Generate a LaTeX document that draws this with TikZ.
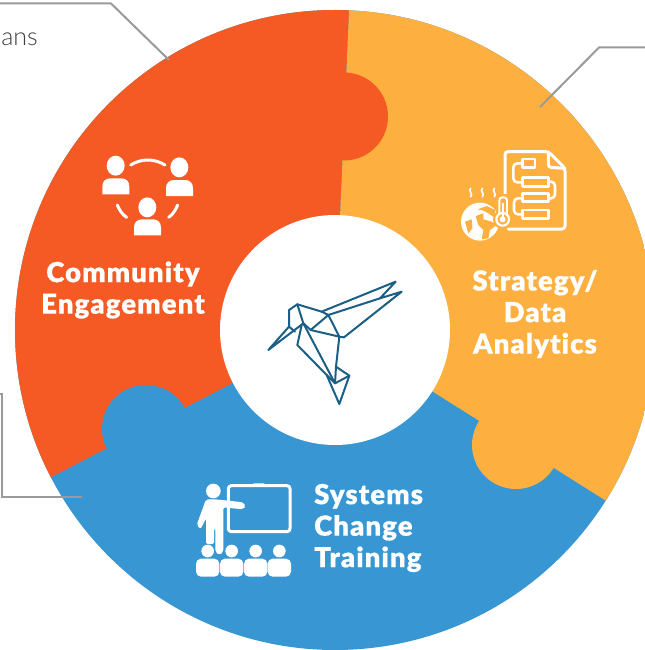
\documentclass[tikz,border=0pt]{standalone}
\usepackage{fontspec}
\setmainfont{Lato Light}
\newfontfamily\heavy[LetterSpace=4,FakeBold=0.5,Ligatures=NoCommon]{Lato Black}
\definecolor{orangeP}{HTML}{F55A25}
\definecolor{yellowP}{HTML}{FDB040}
\definecolor{blueP}{HTML}{3897D3}
\definecolor{birdC}{HTML}{1C5F85}
\definecolor{leadC}{HTML}{9A9A9C}
\tikzset{
  lead/.style={draw=leadC,line width=2bp},
  lab/.style={text=white,font=\heavy\fontsize{27.5bp}{31.5bp}\selectfont,inner sep=0pt,align=center},
  birdline/.style={draw=birdC,line width=2bp,line join=round,line cap=round},
  icon/.style={draw=white,line width=3bp,line join=round,line cap=round},
  iconthin/.style={draw=white,line width=1.7bp,line cap=round}
}
\begin{document}
\begin{tikzpicture}[x=1bp,y=-1bp]
\useasboundingbox (0,0) rectangle (645,650);
\clip (0,0) rectangle (645,650);
\fill[white] (0,0) rectangle (645,650);
% leaders
\coordinate (a1) at (-2,3.5); \coordinate (a2) at (111,3.5); \coordinate (a3) at (169,60);
\coordinate (b1) at (647,47.5); \coordinate (b2) at (599,47.5); \coordinate (b3) at (540,107);
\coordinate (c1) at (-2,394); \coordinate (c2) at (2,394); \coordinate (c3) at (2,497); \coordinate (c4) at (82,497);
% disc
\begin{scope}
\clip (335,330) circle[radius=320];
\fill[blueP] (0,0) rectangle (700,700);
\fill[orangeP] (350,-10) -- (335,330) -- (-20,514) -- (-20,-10) -- cycle;
\fill[yellowP] (350,-10) -- (335,330) -- (700,560) -- (700,-10) -- cycle;
\fill[orangeP] (344,116.5) circle[radius=44];
\fill[blueP] (146,429) circle[radius=44];
\fill[yellowP] (516,445) circle[radius=44];
\end{scope}
\node[circle,fill=white,minimum size=230bp,inner sep=0pt] (hub) at (335,330) {};
\draw[lead] (a1) -- (a2) -- (a3);
\draw[lead] (b1) -- (b2) -- (b3);
\draw[lead] (c1) -- (c2) -- (c3) -- (c4);
\node[anchor=base east,inner sep=0pt,text=black!75,font=\fontsize{25bp}{28bp}\selectfont] (ans) at (38,45.5) {ans};
% labels
\node[lab] (comm) at (123,290) {Community\\Engagement};
\node[lab] (strat) at (535,314) {Strategy/\\Data\\Analytics};
\node[lab,align=left,anchor=west] (sys) at (314,528) {Systems\\Change\\Training};
% bird
\begin{scope}[shift={(220,220)},scale=1/3]
\draw[birdline] (145,390) -- (250,310) -- (232,253) -- (207,270) -- (207,320) -- cycle;
\draw[birdline] (207,320) -- (225,335);
\draw[birdline] (232,253) -- (305,275) -- (527,185) -- (480,235) -- (545,215) -- (372,352) -- (358,350) -- (325,285) -- (272,330) -- (250,310);
\draw[birdline] (305,275) -- (325,285) -- (480,235);
\draw[birdline] (272,330) -- (358,350) -- (348,440) -- (388,467) -- (358,552) -- (320,465);
\draw[birdline] (245,315) -- (232,375) -- (320,465) -- (345,490) -- (388,467);
\draw[birdline] (250,310) -- (345,490) -- (348,440);
\end{scope}
% community icon
\begin{scope}[shift={(90,140)},scale=1/3]
\foreach \hx/\hy/\bx/\by in {77/77/37/115,268/82/228/120,172/202/132/238}{
  \fill[white] (\hx,\hy) ellipse[x radius=27,y radius=30];
  \fill[white] (\bx,\by+48) -- (\bx,\by+25) .. controls (\bx,\by+8) and (\bx+10,\by) .. (\bx+25,\by) -- (\bx+56,\by) .. controls (\bx+71,\by) and (\bx+81,\by+8) .. (\bx+81,\by+25) -- (\bx+81,\by+48) -- cycle;
}
\draw[icon] (122,75) .. controls (155,55) and (192,55) .. (225,75);
\draw[icon] (82,195) .. controls (88,210) and (97,224) .. (110,232);
\draw[icon] (263,195) .. controls (257,210) and (248,224) .. (236,232);
\end{scope}
% training icon
\begin{scope}[shift={(180,470)},scale=1/3]
\draw[icon,rounded corners=3bp] (145,47) rectangle (330,185);
\fill[white,rounded corners=1bp] (218,40) rectangle (255,48);
\fill[white] (100,63) circle[radius=22];
\fill[white,rounded corners=2bp] (78,88) -- (108,88) -- (190,97) -- (197,108) -- (190,118) -- (130,112) -- (130,245) -- (118,256) -- (106,245) -- (106,175) -- (102,175) -- (102,222) -- (78,222) -- (78,145) -- (62,177) -- (50,165) -- cycle;
\foreach \hx in {83,155,227,298}{
  \fill[white] (\hx,243) circle[radius=19];
  \fill[white,rounded corners=5bp] (\hx-35,320) -- (\hx-35,266) -- (\hx+35,266) -- (\hx+35,320) -- cycle;
}
\end{scope}
% strategy icon: document
\begin{scope}[shift={(440,130)},scale=1/3]
\draw[icon,rounded corners=3bp] (195,195) -- (195,65) -- (325,65) -- (375,115) -- (375,297) -- (205,297);
\draw[icon,rounded corners=3bp] (325,65) -- (325,112) -- (375,115);
\draw[icon,line width=2.6bp] (247,87) rectangle (285,112);
\draw[icon,line width=2.6bp] (247,143) rectangle (325,170);
\draw[icon,line width=2.6bp] (247,190) rectangle (325,215);
\draw[icon,line width=2.6bp] (247,240) rectangle (325,265);
\draw[icon,line width=2.6bp,rounded corners=4bp] (247,100) -- (220,100) -- (220,157) -- (247,157);
\draw[icon,line width=2.6bp,rounded corners=4bp] (325,155) -- (345,155) -- (345,205) -- (325,205);
\draw[icon,line width=2.6bp,rounded corners=4bp] (247,205) -- (222,205) -- (222,253) -- (247,253);
\end{scope}
% strategy icon: globe and thermometer
\begin{scope}[shift={(455,180)},scale=1/3]
\fill[white] (75,125) circle[radius=57];
\fill[yellowP] (62,108) -- (85,100) -- (85,118) -- (110,125) -- (125,135) -- (105,150) -- (100,175) -- (80,178) -- (85,150) -- (70,135) -- cycle;
\fill[yellowP] (30,125) -- (50,118) -- (52,145) -- (40,160) -- cycle;
\fill[yellowP] (68,88) -- (95,78) -- (120,90) -- (122,115) -- (100,100) -- (85,92) -- cycle;
\fill[yellowP,rounded corners=3bp] (122,42) rectangle (168,100);
\fill[yellowP] (143,118) circle[radius=29];
\draw[icon,line width=1.9bp,rounded corners=3bp] (133,100) -- (133,52) -- (156,52) -- (156,100);
\draw[icon,line width=2.2bp] (143,118) circle[radius=19];
\fill[white] (143,118) circle[radius=9];
\fill[white] (140,70) rectangle (146,118);
\end{scope}
\begin{scope}[shift={(455,180)},scale=1/3]
\foreach \hx in {47,82,118}
  \draw[iconthin] (\hx,25) .. controls (\hx-9,33) and (\hx+9,42) .. (\hx,50);
\end{scope}
\end{tikzpicture}
\end{document}
